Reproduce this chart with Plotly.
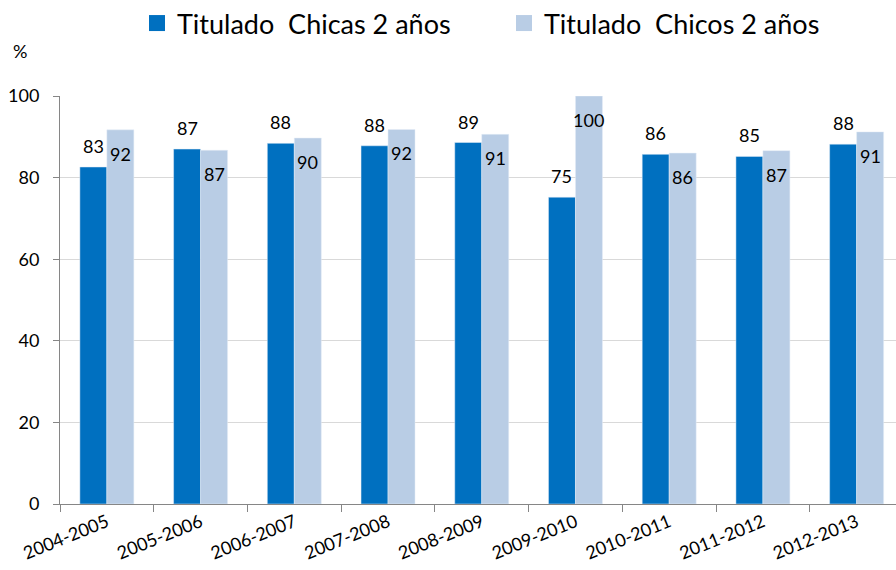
import plotly.graph_objects as go

categories = ["2004-2005", "2005-2006", "2006-2007", "2007-2008", "2008-2009",
              "2009-2010", "2010-2011", "2011-2012", "2012-2013"]
chicas = [82.6, 87.0, 88.4, 87.8, 88.6, 75.2, 85.7, 85.2, 88.2]
chicos = [91.7, 86.7, 89.7, 91.8, 90.6, 100.0, 86.0, 86.6, 91.2]
series_names = ["Titulado  Chicas 2 años", "Titulado  Chicos 2 años"]
y_ticks = [0, 20, 40, 60, 80, 100]

DARK = "#0070C0"
LIGHT = "#B9CDE5"
FONT = "Lato"

W, H = 896, 570
ML, MR, MT, MB = 60, 0, 96, 66
PW, PH = W - ML - MR, H - MT - MB

fig = go.Figure()
fig.add_trace(go.Bar(x=categories, y=chicas, name=series_names[0], marker_color=DARK,
                     showlegend=False, cliponaxis=False))
fig.add_trace(go.Bar(x=categories, y=chicos, name=series_names[1], marker_color=LIGHT,
                     showlegend=False, cliponaxis=False))
# legend entries
for nm, col in zip(series_names, [DARK, LIGHT]):
    fig.add_trace(go.Scatter(x=[None], y=[None], mode="markers", name=nm,
                             marker=dict(symbol="square", size=16, color=col)))

annotations = []
for c, v in zip(categories, chicas):
    annotations.append(dict(x=c, y=v, xref="x", yref="y", text=f"{v:.0f}", showarrow=False,
                            xshift=-13.5, yshift=21, yanchor="middle",
                            font=dict(family=FONT, size=18, color="#000")))
for c, v in zip(categories, chicos):
    annotations.append(dict(x=c, y=v, xref="x", yref="y", text=f"{v:.0f}", showarrow=False,
                            xshift=13.5, yshift=-24, yanchor="middle",
                            font=dict(family=FONT, size=18, color="#000")))
annotations.append(dict(x=(20 - ML) / PW, y=(H - MB - 51) / PH, xref="paper", yref="paper",
                        text="%", showarrow=False, xanchor="center", yanchor="middle",
                        font=dict(family=FONT, size=18, color="#000")))

fig.update_layout(
    width=W, height=H,
    margin=dict(l=ML, r=MR, t=MT, b=MB),
    paper_bgcolor="white", plot_bgcolor="white",
    barmode="group", bargap=0.424, bargroupgap=0,
    font=dict(family=FONT, size=18, color="#000"),
    legend=dict(orientation="h", xref="container", yref="container",
                x=137 / W, y=1 - 23.5 / H, xanchor="left", yanchor="middle",
                font=dict(family=FONT, size=27, color="#000"),
                entrywidth=322, entrywidthmode="pixels"),
    annotations=annotations,
    xaxis=dict(range=[-0.5, 8.42], showline=True, linecolor="#868686", linewidth=1,
               ticks="outside", tickson="boundaries", ticklen=7, tickcolor="#868686",
               tickangle=-22, tickfont=dict(family=FONT, size=18, color="#000"),
               showgrid=False),
    yaxis=dict(range=[0, 100], tickvals=y_ticks, showline=True, linecolor="#868686",
               linewidth=1, ticks="outside", ticklen=6, tickcolor="#868686",
               gridcolor="#D9D9D9", gridwidth=1, zeroline=False,
               tickfont=dict(family=FONT, size=18, color="#000"), ticklabelstandoff=10),
)

fig.write_html("out.html", config={"displayModeBar": False},
               post_script="document.body.style.margin='0';document.body.style.overflow='hidden';")
